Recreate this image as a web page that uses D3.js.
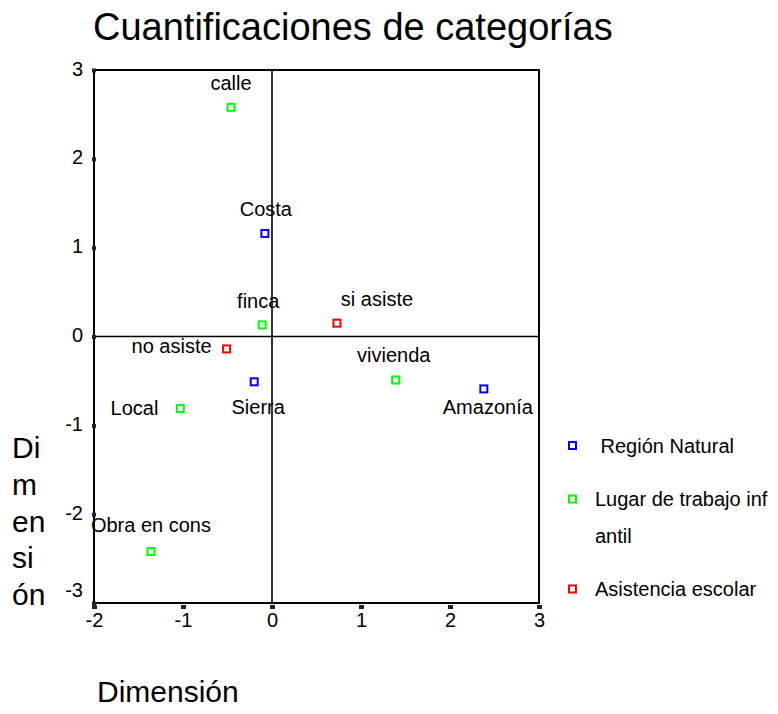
<!DOCTYPE html>
<html><head><meta charset="utf-8">
<script src="https://cdn.jsdelivr.net/npm/d3@7"></script>
<style>body{margin:0;background:#fff;} text{font-family:Arial,"Liberation Sans",sans-serif;fill:#000;}</style>
</head><body>
<svg id="c" width="778" height="714"></svg>
<script>
const labels = ["calle","Costa","finca","si asiste","no asiste","Sierra","vivienda","Amazonía","Local","Obra en cons"];
const groups = ["Lugar","Región","Lugar","Asistencia","Asistencia","Región","Lugar","Región","Lugar","Lugar"];
const dim1 = [-0.46,-0.08,-0.11,0.73,-0.51,-0.20,1.39,2.38,-1.03,-1.36];
const dim2 = [2.58,1.16,0.13,0.15,-0.14,-0.51,-0.49,-0.59,-0.81,-2.42];
const xTicks = [-2,-1,0,1,2,3];
const yTicks = [-3,-2,-1,0,1,2,3];
const legendNames = [" Región Natural","Lugar de trabajo inf|antil","Asistencia escolar"];
const legendKeys = ["Región","Lugar","Asistencia"];
const colors = {"Región":"#0000ff","Lugar":"#00ff00","Asistencia":"#ff0000"};
// label placement: [anchor, dx, dy]
const labelPos = [["middle",0,-17],["middle",1,-17],["middle",-4,-17],["middle",40,-17],["end",-15,4],["middle",4,32],["middle",-2,-18],["middle",4,25],["end",-22,7],["middle",0,-19]];

const svg = d3.select("#c");
const x = d3.scaleLinear().domain([-2,3]).range([94,539]);
const y = d3.scaleLinear().domain([-3,3]).range([603,70]);
const fmt = d => String(d).replace("\u2212","-");

svg.append("text").attr("x",93).attr("y",40).style("font-size","38px").text("Cuantificaciones de categorías");

// frame
svg.append("rect").attr("x",x(-2)).attr("y",y(3)).attr("width",x(3)-x(-2)).attr("height",y(-3)-y(3))
  .attr("fill","none").attr("stroke","#000").attr("stroke-width",2);
// zero lines
svg.append("line").attr("x1",x(0)).attr("x2",x(0)).attr("y1",y(3)).attr("y2",y(-3)).attr("stroke","#000").attr("stroke-width",1.6);
svg.append("line").attr("x1",x(-2)).attr("x2",x(3)).attr("y1",y(0)).attr("y2",y(0)).attr("stroke","#000").attr("stroke-width",1.6);

// axes (labels via d3 axes, tick marks as small squares)
const xa = svg.append("g").attr("transform",`translate(0,${y(-3)+4})`).call(d3.axisBottom(x).tickValues(xTicks).tickSize(0).tickPadding(6).tickFormat(fmt));
xa.select(".domain").remove();
xa.selectAll("text").style("font-size","20px").attr("fill","#000");
xa.selectAll(".tick").append("rect").attr("x",-2.5).attr("y",-2).attr("width",5).attr("height",4).attr("fill","#222");
const ya = svg.append("g").attr("transform",`translate(${x(-2)},0)`).call(d3.axisLeft(y).tickValues(yTicks).tickSize(0).tickPadding(11).tickFormat(fmt));
ya.select(".domain").remove();
ya.selectAll("text").style("font-size","20px").attr("fill","#000").attr("dy",d=>d===-3?"-0.35em":"0.25em");
ya.selectAll(".tick").append("rect").attr("x",-2).attr("y",-2).attr("width",4).attr("height",4).attr("fill","#222");

// points
const data = labels.map((l,i)=>({l,g:groups[i],x:dim1[i],y:dim2[i],p:labelPos[i]}));
svg.selectAll("rect.pt").data(data).join("rect").attr("class","pt")
  .attr("x",d=>x(d.x)-3.5).attr("y",d=>y(d.y)-3.5).attr("width",7).attr("height",7)
  .attr("fill","none").attr("stroke",d=>colors[d.g]).attr("stroke-width",2);
svg.selectAll("text.lb").data(data).join("text").attr("class","lb")
  .attr("x",d=>x(d.x)+d.p[1]).attr("y",d=>y(d.y)+d.p[2]).attr("text-anchor",d=>d.p[0])
  .style("font-size","20px").text(d=>d.l);

// legend
const ly = [445.5,499,589];
legendKeys.forEach((k,i)=>{
  svg.append("rect").attr("x",569).attr("y",ly[i]-3.5).attr("width",7).attr("height",7)
    .attr("fill","none").attr("stroke",colors[k]).attr("stroke-width",2);
  const parts = legendNames[i].split("|");
  parts.forEach((p,j)=>{
    svg.append("text").attr("x",595).attr("y",ly[i]+7+j*37).style("font-size","20px").attr("xml:space","preserve").text(p);
  });
});

// axis titles
svg.append("text").attr("x",97).attr("y",702).style("font-size","30px").text("Dimensión");
const yl = ["Di","m","en","si","ón"];
yl.forEach((t,i)=>svg.append("text").attr("x",12).attr("y",458+i*36.8).style("font-size","30px").text(t));
</script>
</body></html>
